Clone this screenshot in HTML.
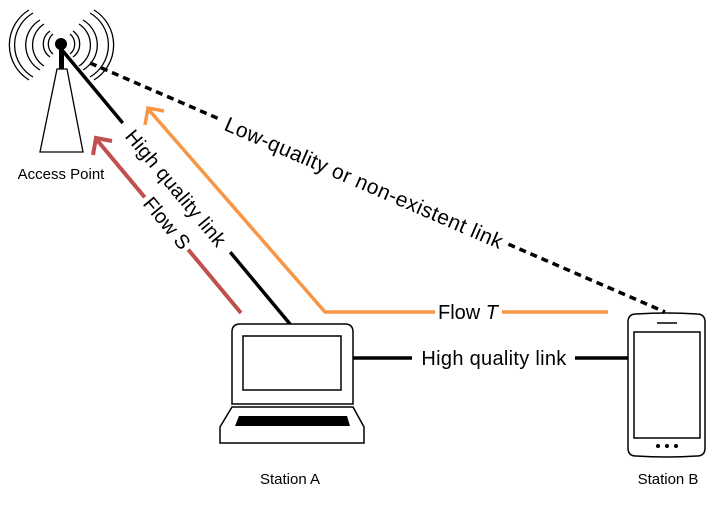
<!DOCTYPE html>
<html><head><meta charset="utf-8"><style>
html,body{margin:0;padding:0;background:#fff;}
svg{display:block;}
text{font-family:"Liberation Sans",sans-serif;fill:#000;}
</style></head><body>
<svg width="720" height="516" viewBox="0 0 720 516" xmlns="http://www.w3.org/2000/svg">
<!-- AP arcs -->
<g fill="none" stroke="#000" stroke-width="1.3">
<path d="M53,34 A13,13 0 0 0 53,54"/><path d="M50,31 A16,16 0 0 0 50,57"/>
<path d="M44,24 A25,25 0 0 0 44,66"/><path d="M40,20 A29,29 0 0 0 40,70"/>
<path d="M33,13 A37,37 0 0 0 33,77"/><path d="M29,10 A41,41 0 0 0 29,80"/>
<path d="M70,34 A13,13 0 0 1 70,54"/><path d="M73,31 A16,16 0 0 1 73,57"/>
<path d="M79,24 A25,25 0 0 1 79,66"/><path d="M83,20 A29,29 0 0 1 83,70"/>
<path d="M90,13 A37,37 0 0 1 90,77"/><path d="M94,10 A41,41 0 0 1 94,80"/>
<path d="M57,69 L67,69 L83,152 L40,152 Z" fill="#fff"/>
</g>
<rect x="59" y="48" width="5" height="21" fill="#000"/>
<circle cx="61" cy="44" r="6" fill="#000"/>
<text x="61" y="179" font-size="15" text-anchor="middle">Access Point</text>
<!-- lines -->
<line x1="90" y1="63" x2="665" y2="312" stroke="#000" stroke-width="3.5" stroke-dasharray="7,5"/>
<line x1="62" y1="50" x2="290" y2="324" stroke="#000" stroke-width="3.5"/>
<line x1="241" y1="313" x2="97" y2="140" stroke="#c0504d" stroke-width="4"/>
<path d="M93,155 L96,138 L112,141" fill="none" stroke="#c0504d" stroke-width="4"/>
<polyline points="608,312 325,312 149,110" fill="none" stroke="#f79646" stroke-width="3.5"/>
<path d="M145,125 L148,108 L164,111" fill="none" stroke="#f79646" stroke-width="3.5"/>
<line x1="353" y1="358" x2="630" y2="358" stroke="#000" stroke-width="3.5"/>
<!-- labels -->
<g transform="translate(364,183) rotate(23.4)">
<rect x="-156" y="-10" width="312" height="20" fill="#fff"/>
<text font-size="21" letter-spacing="0.4" text-anchor="middle" y="7">Low-quality or non-existent link</text>
</g>
<g transform="translate(176,188) rotate(50.2)">
<rect x="-84" y="-10" width="168" height="20" fill="#fff"/>
<text font-size="20" letter-spacing="0.3" text-anchor="middle" y="7">High quality link</text>
</g>
<g transform="translate(167,223) rotate(50.3)">
<rect x="-34" y="-10" width="68" height="20" fill="#fff"/>
<text font-size="20" text-anchor="middle" y="7">Flow S</text>
</g>
<rect x="435" y="302" width="67" height="20" fill="#fff"/>
<text font-size="20" text-anchor="middle" x="468" y="319">Flow <tspan font-style="italic">T</tspan></text>
<rect x="412" y="348" width="163" height="20" fill="#fff"/>
<text font-size="20" letter-spacing="0.3" text-anchor="middle" x="494" y="365">High quality link</text>
<!-- laptop -->
<g fill="#fff" stroke="#000" stroke-width="1.5">
<path d="M232,404 L232,332 Q232,324 240,324 L345,324 Q353,324 353,332 L353,404 Z"/>
<rect x="243" y="336" width="98" height="54"/>
<path d="M232,407 L353,407 L364,427 L364,443 L220,443 L220,427 Z"/>
</g>
<path d="M239,416 L347,416 L350,426 L235,426 Z" fill="#000"/>
<text x="290" y="484" font-size="15" text-anchor="middle">Station A</text>
<!-- phone -->
<g fill="#fff" stroke="#000" stroke-width="1.5">
<path d="M628,322 Q628,314 636,314 Q667,312 697,314 Q705,314 705,322 L705,448 Q705,456 697,456 Q667,458 636,456 Q628,456 628,448 Z"/>
<rect x="634" y="332" width="66" height="106"/>
</g>
<line x1="657" y1="323" x2="677" y2="323" stroke="#000" stroke-width="1.5"/>
<circle cx="658" cy="446" r="2" fill="#000"/><circle cx="667" cy="446" r="2" fill="#000"/><circle cx="676" cy="446" r="2" fill="#000"/>
<text x="668" y="484" font-size="15" text-anchor="middle">Station B</text>
</svg>
</body></html>
